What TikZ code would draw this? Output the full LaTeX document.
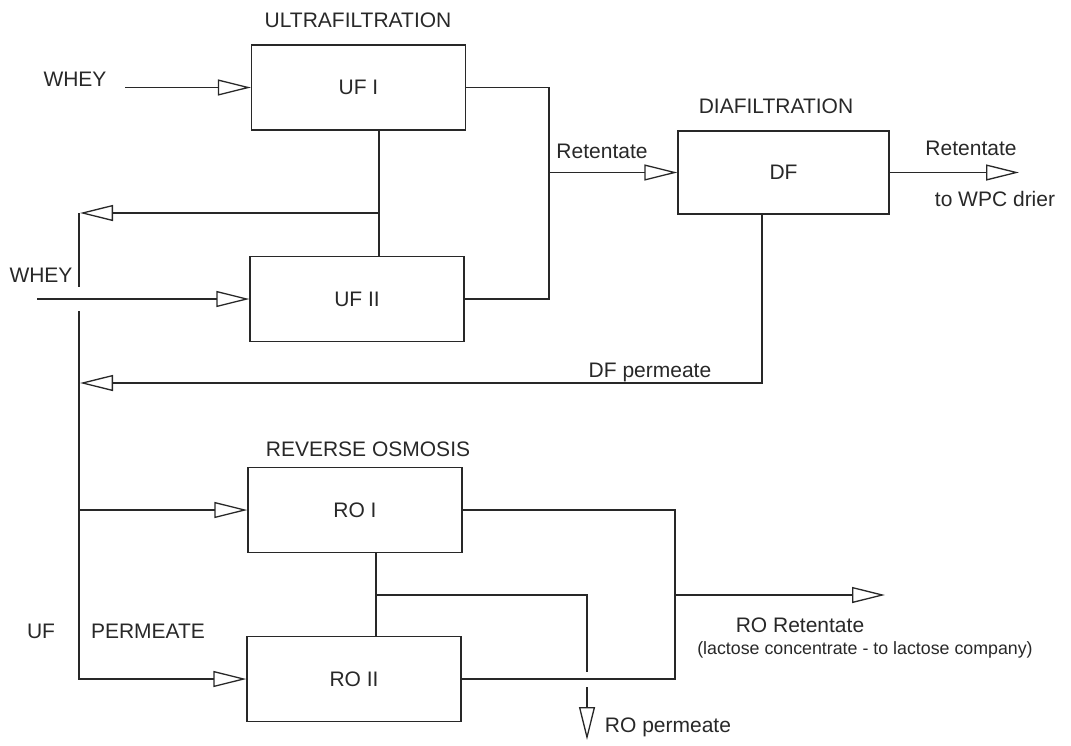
\documentclass[tikz,border=0pt]{standalone}
\usepackage{fontspec}
\setmainfont{Liberation Sans}
\usetikzlibrary{arrows.meta}
\definecolor{ink}{RGB}{40,40,40}
\tikzset{
  box/.style={draw=ink, line width=1.3pt, minimum width=214pt, minimum height=85pt, inner sep=0pt, text=ink, font=\fontsize{21}{24}\selectfont},
  flow/.style={-{Triangle[open, length=33pt, width=16pt, fill=white]}},
  lbl/.style={anchor=base, inner sep=0pt, text=ink, font=\fontsize{21}{24}\selectfont},
  small/.style={anchor=base, inner sep=0pt, text=ink, font=\fontsize{17.8}{20}\selectfont},
}
\begin{document}
\begin{tikzpicture}[x=1pt, y=-1pt, line width=1.3pt, draw=ink]
\useasboundingbox (0,0) rectangle (1071,745);
% boxes
\node[box] (uf1) at (358.5,87.5) {UF I};
\node[box] (uf2) at (357,299) {UF II};
\node[box, minimum width=211pt, minimum height=83pt] (df) at (783.5,172.5) {DF};
\node[box] (ro1) at (355,510) {RO I};
\node[box] (ro2) at (354,679) {RO II};
% titles and labels
\node[lbl] (tuf) at (358,27.5) {ULTRAFILTRATION};
\node[lbl] (tdf) at (776,113) {DIAFILTRATION};
\node[lbl] (tro) at (368,456) {REVERSE OSMOSIS};
\node[lbl] (lwhey1) at (75,86) {WHEY};
\node[lbl] (lwhey2) at (41,282) {WHEY};
\node[lbl] (lret1) at (602,158) {Retentate};
\node[lbl] (lret2) at (971,155) {Retentate};
\node[lbl] (lwpc) at (995,206) {to WPC drier};
\node[lbl] (ldfp) at (650,377) {DF permeate};
\node[lbl] (luf) at (41,638) {UF};
\node[lbl] (lperm) at (148,638) {PERMEATE};
\node[lbl] (lroret) at (800,632) {RO Retentate};
\node[small] (llac) at (865,654) {(lactose concentrate - to lactose company)};
\node[lbl] (lrop) at (668,732) {RO permeate};
% coordinates
\coordinate (wheyA) at (125,87.5);
\coordinate (rj) at (549,200);
\coordinate (ufv) at (379,213);
\coordinate (recyc) at (80,213);
\coordinate (gapT) at (79,287);
\coordinate (gapB) at (79,311);
\coordinate (wheyB) at (37,299);
\coordinate (wpc) at (1019,172.5);
\coordinate (dfc) at (762,383);
\coordinate (dfp) at (80,383);
\coordinate (rof) at (79,510);
\coordinate (rov) at (376,595);
\coordinate (pj) at (587,595);
\coordinate (pjend) at (587,672);
\coordinate (pstart) at (587,687);
\coordinate (ptip) at (587,740);
\coordinate (rr) at (675,595);
\coordinate (rrtip) at (885,595);
% connectors
\draw[flow] (wheyA) -- (uf1.west);
\draw (uf1.east) -| (rj) |- (uf2.east);
\draw[flow] (rj |- df.west) -- (df.west);
\draw (ufv |- uf1.south) -- (ufv |- uf2.north);
\draw[flow] (ufv) -- (recyc);
\draw (79,213) -- (gapT);
\draw[flow] (gapB) |- (ro2.west);
\draw[flow] (wheyB) -- (uf2.west);
\draw[flow] (df.east) -- (wpc);
\draw[flow] (dfc |- df.south) -- (dfc) -- (dfp);
\draw[flow] (rof) -- (ro1.west);
\draw (rov |- ro1.south) -- (rov |- ro2.north);
\draw (rov) -- (pj) -- (pjend);
\draw[flow] (pstart) -- (ptip);
\draw (ro1.east) -| (rr) |- (ro2.east);
\draw[flow] (rr) -- (rrtip);
\end{tikzpicture}
\end{document}
